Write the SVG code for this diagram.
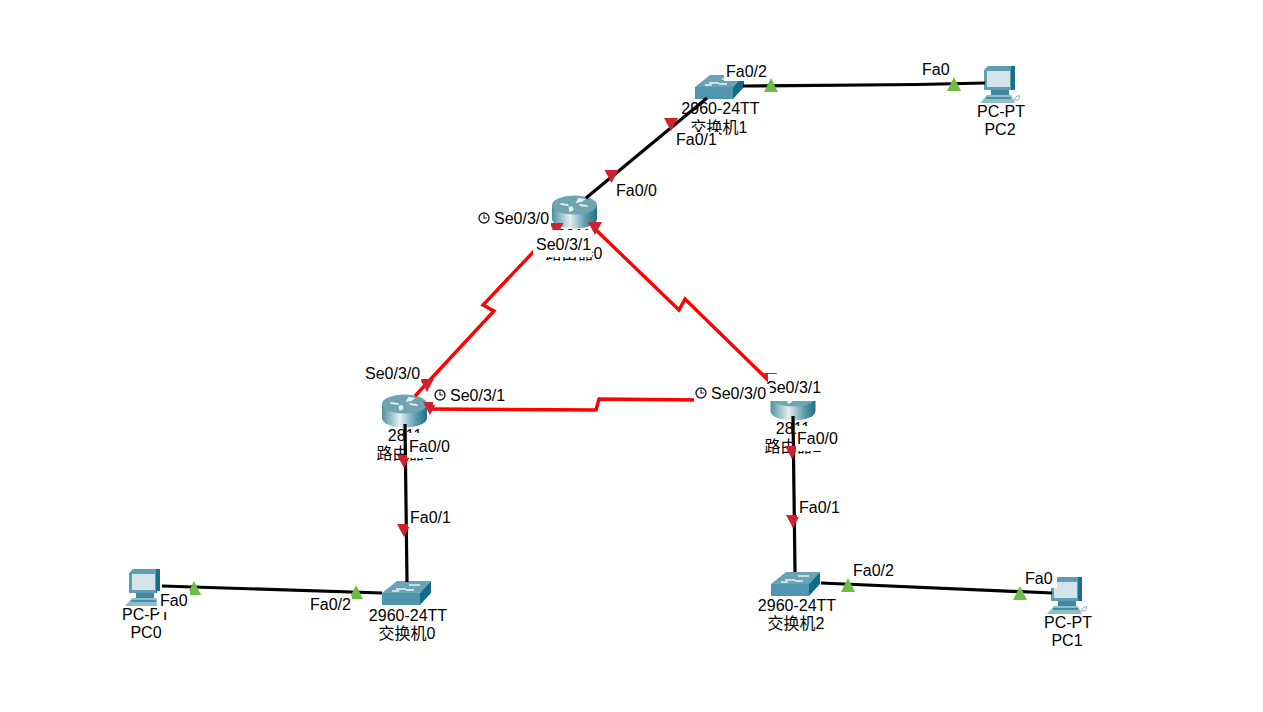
<svg xmlns="http://www.w3.org/2000/svg" xmlns:xlink="http://www.w3.org/1999/xlink" width="1263" height="712" viewBox="0 0 1263 712">
<style>
text{font-family:"Liberation Sans","Noto Sans CJK SC",sans-serif;font-size:16px;fill:#000}
.nl{text-anchor:middle}
.eth{fill:none;stroke:#000;stroke-width:3.2}
.ser{fill:none;stroke:#f00;stroke-width:3.4}
.r{fill:#d2202f}
.g{fill:#6cbd45}
.m{fill:#fff}
.ck{fill:#fff;stroke:#222;stroke-width:1.4}
.ckh{fill:none;stroke:#222;stroke-width:1.2}
</style>
<defs>
<linearGradient id="rb" x1="0" x2="1" y1="0" y2="0">
<stop offset="0" stop-color="#4f8f9e"/><stop offset=".4" stop-color="#e4f0f2"/><stop offset=".75" stop-color="#5b9aaa"/><stop offset="1" stop-color="#1f7186"/>
</linearGradient>
<g id="router">
<path d="M-22.500-9V5A22.500 9.500 0 0 0 22.500 5V-9Z" fill="url(#rb)"/>
<ellipse cx="0" cy="-9" rx="22.500" ry="9.500" fill="#6fa5b3"/>
<path d="M-15-11l8 1 2 2-8-1zM4-16l7 1-4 3-6 1zM14-7l-8-1-2-2 8 1zM-5-2l-1-5 4-1 1 4z" fill="#e8f3f5"/>
</g>
<g id="switch">
<path d="M0 12L15 0H49L38 12Z" fill="#6ba2b5"/>
<path d="M0 12H38V24H0Z" fill="#4f95ae"/>
<path d="M38 12L49 0V12L38 24Z" fill="#0f6d87"/>
<path d="M14 8h10M27 4h11M10 10h7M24 9h8" stroke="#e8f3f5" stroke-width="1.300"/>
</g>
<g id="pc">
<path d="M4 5L8 1H35V25H4Z" fill="#5f9db3"/>
<path d="M7 6H30V22H7Z" fill="#d4e4ea"/>
<path d="M31 1h4V25h-4Z" fill="#176f89"/>
<path d="M11 25H29V30H11Z" fill="#3f88a0"/>
<path d="M7 30H31L35 38H0Z" fill="#8fbfcd"/>
<path d="M6 33H31" stroke="#2d7d95" stroke-width="1.500"/>
<path d="M34 35l3-4h3l-2 4z" fill="none" stroke="#8fb5c2" stroke-width="1"/>
</g>
<g id="clock">
<circle r="5" class="ck"/><path d="M0-3.500V0H3" class="ckh"/>
</g>
<path id="td" d="M-7-6H7L0 7Z" class="r"/>
<path id="tu" d="M-7 7H7L0-7Z" class="g"/>
</defs>
<rect width="1263" height="712" fill="#fff"/>

<g id="router0">
<use href="#router" x="574.500" y="214"/>
<text class="nl" x="574" y="241">2811</text>
<text class="nl" x="574" y="259">路由器0</text>
</g>
<g id="router1">
<use href="#router" x="404.500" y="413"/>
<text class="nl" x="405" y="441">2811</text>
<text class="nl" x="405" y="459">路由器1</text>
</g>
<g id="router2">
<use href="#router" x="793" y="406"/>
<text class="nl" x="793" y="434">2811</text>
<text class="nl" x="793" y="452">路由器2</text>
</g>
<g id="switch1">
<text class="nl" x="719" y="133">交换机1</text>
<rect x="688" y="100" width="38" height="18.500" class="m"/>
<use href="#switch" x="695" y="75"/>
<text class="nl" x="720.500" y="114">2960-24TT</text>
</g>
<g id="switch0">
<use href="#switch" x="382" y="581"/>
<text class="nl" x="408" y="621">2960-24TT</text>
<text class="nl" x="407" y="639">交换机0</text>
</g>
<g id="switch2">
<use href="#switch" x="771" y="572"/>
<text class="nl" x="797" y="611">2960-24TT</text>
<text class="nl" x="796" y="629">交换机2</text>
</g>
<g id="pc0">
<use href="#pc" x="125" y="568"/>
<text class="nl" x="146" y="620">PC-PT</text>
<text class="nl" x="146" y="638">PC0</text>
</g>
<g id="pc1">
<use href="#pc" x="1047" y="576"/>
<text class="nl" x="1068" y="628">PC-PT</text>
<text class="nl" x="1067" y="646">PC1</text>
</g>
<g id="pc2">
<use href="#pc" x="980" y="65"/>
<text class="nl" x="1001" y="117">PC-PT</text>
<text class="nl" x="1000" y="135">PC2</text>
</g>

<g id="connectors">
<path class="eth" d="M743 86L918 84.500L985 83"/>
<path class="eth" d="M707 98L586 198"/>
<path class="eth" d="M405 424L407 582"/>
<path class="eth" d="M793 416L795 572"/>
<path class="eth" d="M162 586L382 593"/>
<path class="eth" d="M821 583L1052 593"/>
<path class="ser" d="M556 228L483 305L494 311L415 396"/>
<path class="ser" d="M594 228L679 310L685 299L772 384"/>
<path class="ser" d="M428 409L596 410L599 399L700 400"/>
<use href="#tu" x="771" y="85"/><use href="#tu" x="954" y="84"/>
<use href="#td" x="671" y="124"/><use href="#td" x="611.500" y="176"/>
<use href="#td" x="556.500" y="229"/><use href="#td" x="595" y="228"/>
<use href="#td" x="427" y="385"/><use href="#td" x="430" y="408"/>
<use href="#td" x="404" y="461"/><use href="#td" x="404" y="530"/>
<use href="#td" x="770" y="379"/>
<use href="#td" x="792" y="452"/><use href="#td" x="793" y="521"/>
<use href="#tu" x="194" y="588"/><use href="#tu" x="356" y="592"/>
<use href="#tu" x="848" y="585"/><use href="#tu" x="1020" y="593"/>
</g>

<g id="ports">
<rect x="724" y="61" width="45" height="20" class="m"/><text x="726" y="77">Fa0/2</text>
<rect x="920" y="60" width="33" height="20" class="m"/><text x="922" y="75">Fa0</text>
<rect x="675" y="132" width="44" height="16" class="m"/><text x="676" y="145">Fa0/1</text>
<rect x="615" y="182" width="44" height="18" class="m"/><text x="616" y="196">Fa0/0</text>
<rect x="477" y="208" width="74" height="20" class="m"/><use href="#clock" x="484" y="218"/><text x="494" y="224">Se0/3/0</text>
<rect x="533" y="230" width="59" height="27" class="m"/><text x="536" y="250">Se0/3/1</text>
<rect x="363" y="364" width="58" height="20" class="m"/><text x="365" y="379">Se0/3/0</text>
<rect x="433" y="385" width="74" height="20" class="m"/><use href="#clock" x="440" y="395"/><text x="450" y="401">Se0/3/1</text>
<rect x="768" y="374" width="54" height="27" class="m"/><text x="766" y="393">Se0/3/1</text>
<rect x="694" y="384" width="76" height="25" class="m"/><use href="#clock" x="701" y="393"/><text x="711" y="399">Se0/3/0</text>
<rect x="407" y="433" width="44" height="25" class="m"/><text x="409" y="452">Fa0/0</text>
<rect x="796" y="426" width="44" height="25" class="m"/><text x="797" y="444">Fa0/0</text>
<rect x="408" y="507" width="44" height="20" class="m"/><text x="410" y="523">Fa0/1</text>
<rect x="797" y="497" width="44" height="20" class="m"/><text x="799" y="513">Fa0/1</text>
<rect x="157" y="591" width="33" height="21" class="m"/><text x="160" y="606">Fa0</text>
<rect x="308" y="596" width="44" height="18" class="m"/><text x="310" y="610">Fa0/2</text>
<rect x="851" y="561" width="44" height="20" class="m"/><text x="853" y="576">Fa0/2</text>
<rect x="1023" y="569" width="34" height="19" class="m"/><text x="1025" y="584">Fa0</text>
</g>
</svg>
